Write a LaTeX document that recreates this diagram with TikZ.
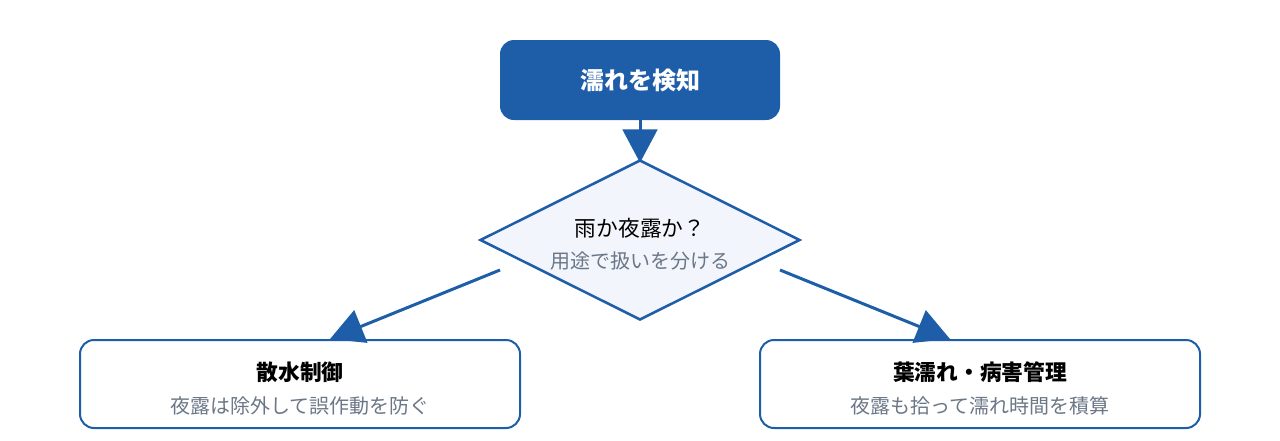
\documentclass[tikz,border=0pt]{standalone}
\usepackage{fontspec}
\usepackage{xcolor}
\usetikzlibrary{arrows.meta, shapes.geometric}
\setmainfont{Noto Sans CJK JP}

\definecolor{mainblue}{HTML}{1E5DA8}
\definecolor{paleblue}{HTML}{F2F6FC}
\definecolor{subgray}{HTML}{6B7787}

\newcommand{\headtxt}[1]{{\fontsize{16.3pt}{19pt}\selectfont\bfseries #1}}
\newcommand{\subtxt}[1]{{\fontsize{15pt}{18pt}\selectfont\color{subgray}#1}}
% two lines, a little below the centre
\newcommand{\twolines}[2]{\raisebox{-4.5pt}[\height][\depth]{\begin{tabular}{@{}c@{}}#1\\[8pt]#2\end{tabular}}}

\begin{document}
\begin{tikzpicture}[
x=0.75pt, y=-0.75pt,
box/.style={draw=mainblue, line width=1.5pt, rounded corners=10.5pt, fill=white,
  minimum width=330pt, minimum height=66pt, inner sep=0pt},
arrow/.style={-{Triangle[length=25pt, width=26pt]}, draw=mainblue, line width=2.25pt}
]
\useasboundingbox (0,0) rectangle (1280,440);

\node (detect) [fill=mainblue, rounded corners=10.5pt, minimum width=210pt, minimum height=60pt,
  text=white] at (640,80) {{\fontsize{18pt}{21pt}\selectfont\bfseries 濡れを検知}};
\node (judge) [diamond, aspect=2, draw=mainblue, line width=1.9pt, fill=paleblue,
  minimum width=240pt, minimum height=120pt, inner sep=0pt] at (640,240)
  {\twolines{{\fontsize{16.3pt}{19pt}\selectfont 雨か夜露か？}}{\subtxt{用途で扱いを分ける}}};
\node (spray) [box] at (300,384)
  {\twolines{\headtxt{散水制御}}{\subtxt{夜露は除外して誤作動を防ぐ}}};
\node (leaf) [box] at (980,384)
  {\twolines{\headtxt{葉濡れ・病害管理}}{\subtxt{夜露も拾って濡れ時間を積算}}};

\coordinate (qleft) at (500,270);
\coordinate (qright) at (780,270);

\draw[arrow] (detect) -- ([yshift=-3pt]judge.north);
\draw[arrow] (qleft) -- ([xshift=22.5pt]spray.north);
\draw[arrow] (qright) -- ([xshift=-22.5pt]leaf.north);

\end{tikzpicture}
\end{document}
